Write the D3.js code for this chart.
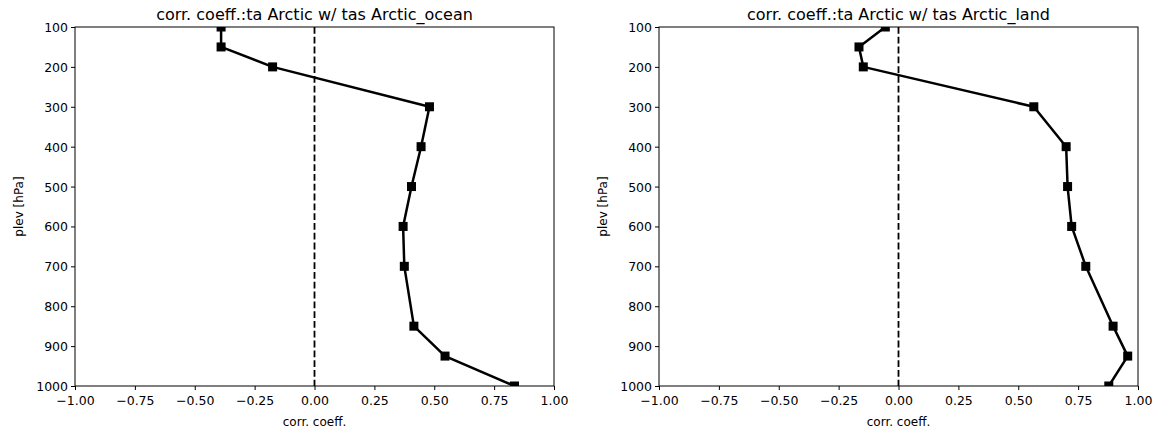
<!DOCTYPE html>
<html>
<head>
<meta charset="utf-8">
<script src="https://cdn.jsdelivr.net/npm/d3@7"></script>
<style>
  body { margin: 0; background: #fff; }
  svg { font-family: "DejaVu Sans", sans-serif; }
</style>
</head>
<body>
<div id="chart"></div>
<script>
const levels = [100, 150, 200, 300, 400, 500, 600, 700, 850, 925, 1000];
const oceanCorr = [-0.39, -0.39, -0.175, 0.48, 0.445, 0.405, 0.37, 0.375, 0.415, 0.545, 0.835];
const landCorr = [-0.055, -0.165, -0.147, 0.565, 0.70, 0.706, 0.723, 0.782, 0.896, 0.957, 0.878];
const xTicks = [-1, -0.75, -0.5, -0.25, 0, 0.25, 0.5, 0.75, 1];
const yTicks = [100, 200, 300, 400, 500, 600, 700, 800, 900, 1000];
const titles = ['corr. coeff.:ta Arctic w/ tas Arctic_ocean', 'corr. coeff.:ta Arctic w/ tas Arctic_land'];

const W = 1157, H = 429;
const panels = [
    { left: 75, values: oceanCorr, title: titles[0] },
    { left: 659, values: landCorr, title: titles[1] }
];
const pw = 479, plotTop = 27, ph = 359;

const svg = d3.select('#chart').append('svg')
    .attr('width', W)
    .attr('height', H);

svg.append('defs').append('clipPath')
    .attr('id', 'plot-clip')
    .append('rect')
    .attr('width', pw)
    .attr('height', ph);

panels.forEach(p => {
    const x = d3.scaleLinear().domain([-1, 1]).range([0, pw]);
    const y = d3.scaleLinear().domain([100, 1000]).range([0, ph]);
    const g = svg.append('g').attr('transform', `translate(${p.left},${plotTop})`);
    const inner = g.append('g').attr('clip-path', 'url(#plot-clip)');

    // zero line
    inner.append('line')
        .attr('x1', x(0)).attr('x2', x(0))
        .attr('y1', 0).attr('y2', ph)
        .attr('stroke', '#000')
        .attr('stroke-width', 1.8)
        .attr('stroke-dasharray', '6.8,3');

    const pts = levels.map((l, i) => [p.values[i], l]);
    inner.append('path')
        .datum(pts)
        .attr('fill', 'none')
        .attr('stroke', '#000')
        .attr('stroke-width', 2.5)
        .attr('stroke-linejoin', 'round')
        .attr('d', d3.line().x(d => x(d[0])).y(d => y(d[1])));

    const ms = 9;
    inner.selectAll('rect.mk')
        .data(pts)
        .enter()
        .append('rect')
        .attr('class', 'mk')
        .attr('x', d => x(d[0]) - ms / 2)
        .attr('y', d => y(d[1]) - ms / 2)
        .attr('width', ms)
        .attr('height', ms)
        .attr('fill', '#000');

    // frame
    g.append('rect')
        .attr('width', pw).attr('height', ph)
        .attr('fill', 'none')
        .attr('stroke', '#000')
        .attr('stroke-width', 1);

    const xAxis = g.append('g')
        .attr('transform', `translate(0,${ph})`)
        .call(d3.axisBottom(x).tickValues(xTicks).tickFormat(d3.format('.2f')).tickSizeOuter(0).tickSize(4).tickPadding(6));
    const yAxis = g.append('g')
        .call(d3.axisLeft(y).tickValues(yTicks).tickFormat(d3.format('d')).tickSizeOuter(0).tickSize(4).tickPadding(3));
    [xAxis, yAxis].forEach(a => {
        a.select('.domain').remove();
        a.selectAll('text').attr('font-size', 12.5).attr('fill', '#000').attr('font-family', '"DejaVu Sans", sans-serif');
        a.selectAll('line').attr('stroke', '#000');
    });
    yAxis.selectAll('text').attr('dy', '0.36em');

    g.append('text')
        .attr('x', pw / 2).attr('y', -7)
        .attr('text-anchor', 'middle')
        .attr('font-size', 16)
        .text(p.title);

    g.append('text')
        .attr('x', pw / 2).attr('y', ph + 40)
        .attr('text-anchor', 'middle')
        .attr('font-size', 12)
        .text('corr. coeff.');

    g.append('text')
        .attr('transform', `translate(-52,${ph / 2}) rotate(-90)`)
        .attr('text-anchor', 'middle')
        .attr('font-size', 12)
        .text('plev [hPa]');
});
</script>
</body>
</html>
